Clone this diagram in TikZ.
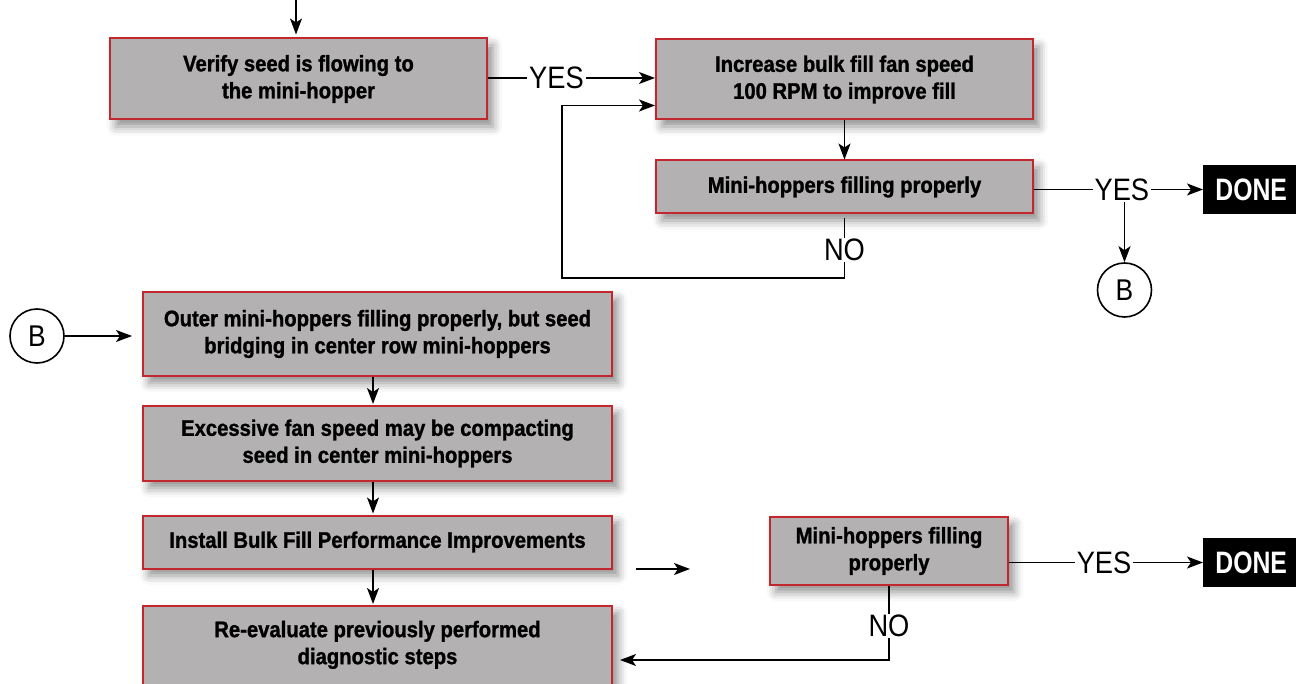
\documentclass[tikz,border=0pt]{standalone}
\usepackage{fontspec}
\setmainfont{Liberation Sans}
\newfontfamily\boxfamily{Liberation Sans}[FakeStretch=0.9,FakeBold=1.2]
\newfontfamily\lblfamily{Liberation Sans}[FakeStretch=0.88]
\newfontfamily\donefamily{Liberation Sans}[FakeStretch=0.8]
\usetikzlibrary{arrows.meta,shadows.blur}
\definecolor{boxred}{HTML}{C1272D}
\definecolor{boxgray}{HTML}{B3B1B2}
\tikzset{
  box/.style={draw=boxred, line width=2pt, fill=boxgray, align=center,
    font=\boxfamily\bfseries\fontsize{22.5}{27}\selectfont, inner sep=0pt,
    blur shadow={shadow xshift=6pt, shadow yshift=-7pt, shadow blur radius=9pt, shadow opacity=45}},
  donebox/.style={fill=black, text=white, inner sep=0pt,
    font=\donefamily\bfseries\fontsize{31}{31}\selectfont, minimum height=49pt},
  bcircle/.style={circle, draw=black, line width=1.6pt, minimum size=54pt, inner sep=0pt,
    font=\lblfamily\fontsize{30}{30}\selectfont},
  lbl/.style={fill=white, inner xsep=2pt, inner ysep=1pt, font=\lblfamily\fontsize{31}{31}\selectfont},
  arr/.style={line width=1.4pt, -{Stealth[length=16pt,width=12pt,inset=4pt]}},
}
\begin{document}
\begin{tikzpicture}[x=1pt,y=-1pt]
\useasboundingbox (0,0) rectangle (1296,684);
% boxes
\node[box, minimum width=377pt, minimum height=81pt] (verify) at (298.5,79) {Verify seed is flowing to\\the mini-hopper};
\node[box, minimum width=377pt, minimum height=80pt] (increase) at (844.5,79.5) {Increase bulk fill fan speed\\100 RPM to improve fill};
\node[box, minimum width=377pt, minimum height=53pt] (mini1) at (844.5,187) {Mini-hoppers filling properly};
\node[donebox, minimum width=100pt, anchor=west] (done1) at (1203,189.5) {\hspace*{-4pt}DONE};
\node[bcircle] (B1) at (1124.5,290) {B};
\node[bcircle] (B2) at (37,336) {B};
\node[box, minimum width=469pt, minimum height=84pt] (outer) at (377.5,334) {Outer mini-hoppers filling properly, but seed\\bridging in center row mini-hoppers};
\node[box, minimum width=469pt, minimum height=75pt] (excess) at (377.5,443.5) {Excessive fan speed may be compacting\\seed in center mini-hoppers};
\node[box, minimum width=469pt, minimum height=53pt] (install) at (377.5,542) {Install Bulk Fill Performance Improvements};
\node[box, minimum width=469pt, minimum height=82pt, anchor=north] (reeval) at (377.5,605) {Re-evaluate previously performed\\diagnostic steps\\[-18pt]};
\node[box, minimum width=238pt, minimum height=68pt] (mini2) at (889,551) {Mini-hoppers filling\\properly};
\node[donebox, minimum width=100pt, anchor=west] (done2) at (1203,562.5) {\hspace*{-4pt}DONE};
% free ends
\coordinate (top) at (296,0);
\coordinate (loopc) at (562,278);
\coordinate (fa) at (636,569);
\coordinate (fb) at (690,569);
% connectors
\draw[arr, shorten >=3pt] (top) -- (top |- verify.north);
\draw[arr] (verify.east |- 0,78) -- node[lbl, pos=0.41] {YES} (increase.west |- 0,78);
\draw[arr] (increase.south) -- (mini1.north);
\draw[arr, shorten <=4pt] (mini1.south) |- node[lbl, pos=0.28] {NO} (loopc) |- ([yshift=-26pt]increase.west);
\draw[arr] (mini1.east |- done1.west) -- node[lbl, pos=0.52] (yes1) {YES} (done1.west);
\draw[arr] (yes1.south -| B1.north) -- (B1.north);
\draw[arr, shorten >=10pt] (B2.east) -- (B2.east -| outer.west);
\draw[arr, shorten >=1pt] ([xshift=-4.5pt]outer.south) -- ([xshift=-4.5pt]excess.north);
\draw[arr, shorten >=1pt] ([xshift=-4.5pt]excess.south) -- ([xshift=-4.5pt]install.north);
\draw[arr, shorten >=1pt] ([xshift=-4.5pt]install.south) -- ([xshift=-4.5pt]reeval.north);
\draw[arr] (fa) -- (fb);
\draw[arr] (mini2.east |- done2.west) -- node[lbl, pos=0.49] {YES} (done2.west);
\draw[arr, shorten >=7pt] (mini2.south) |- node[lbl, pos=0.27] {NO} ([yshift=-13pt]reeval.east);
\end{tikzpicture}
\end{document}
